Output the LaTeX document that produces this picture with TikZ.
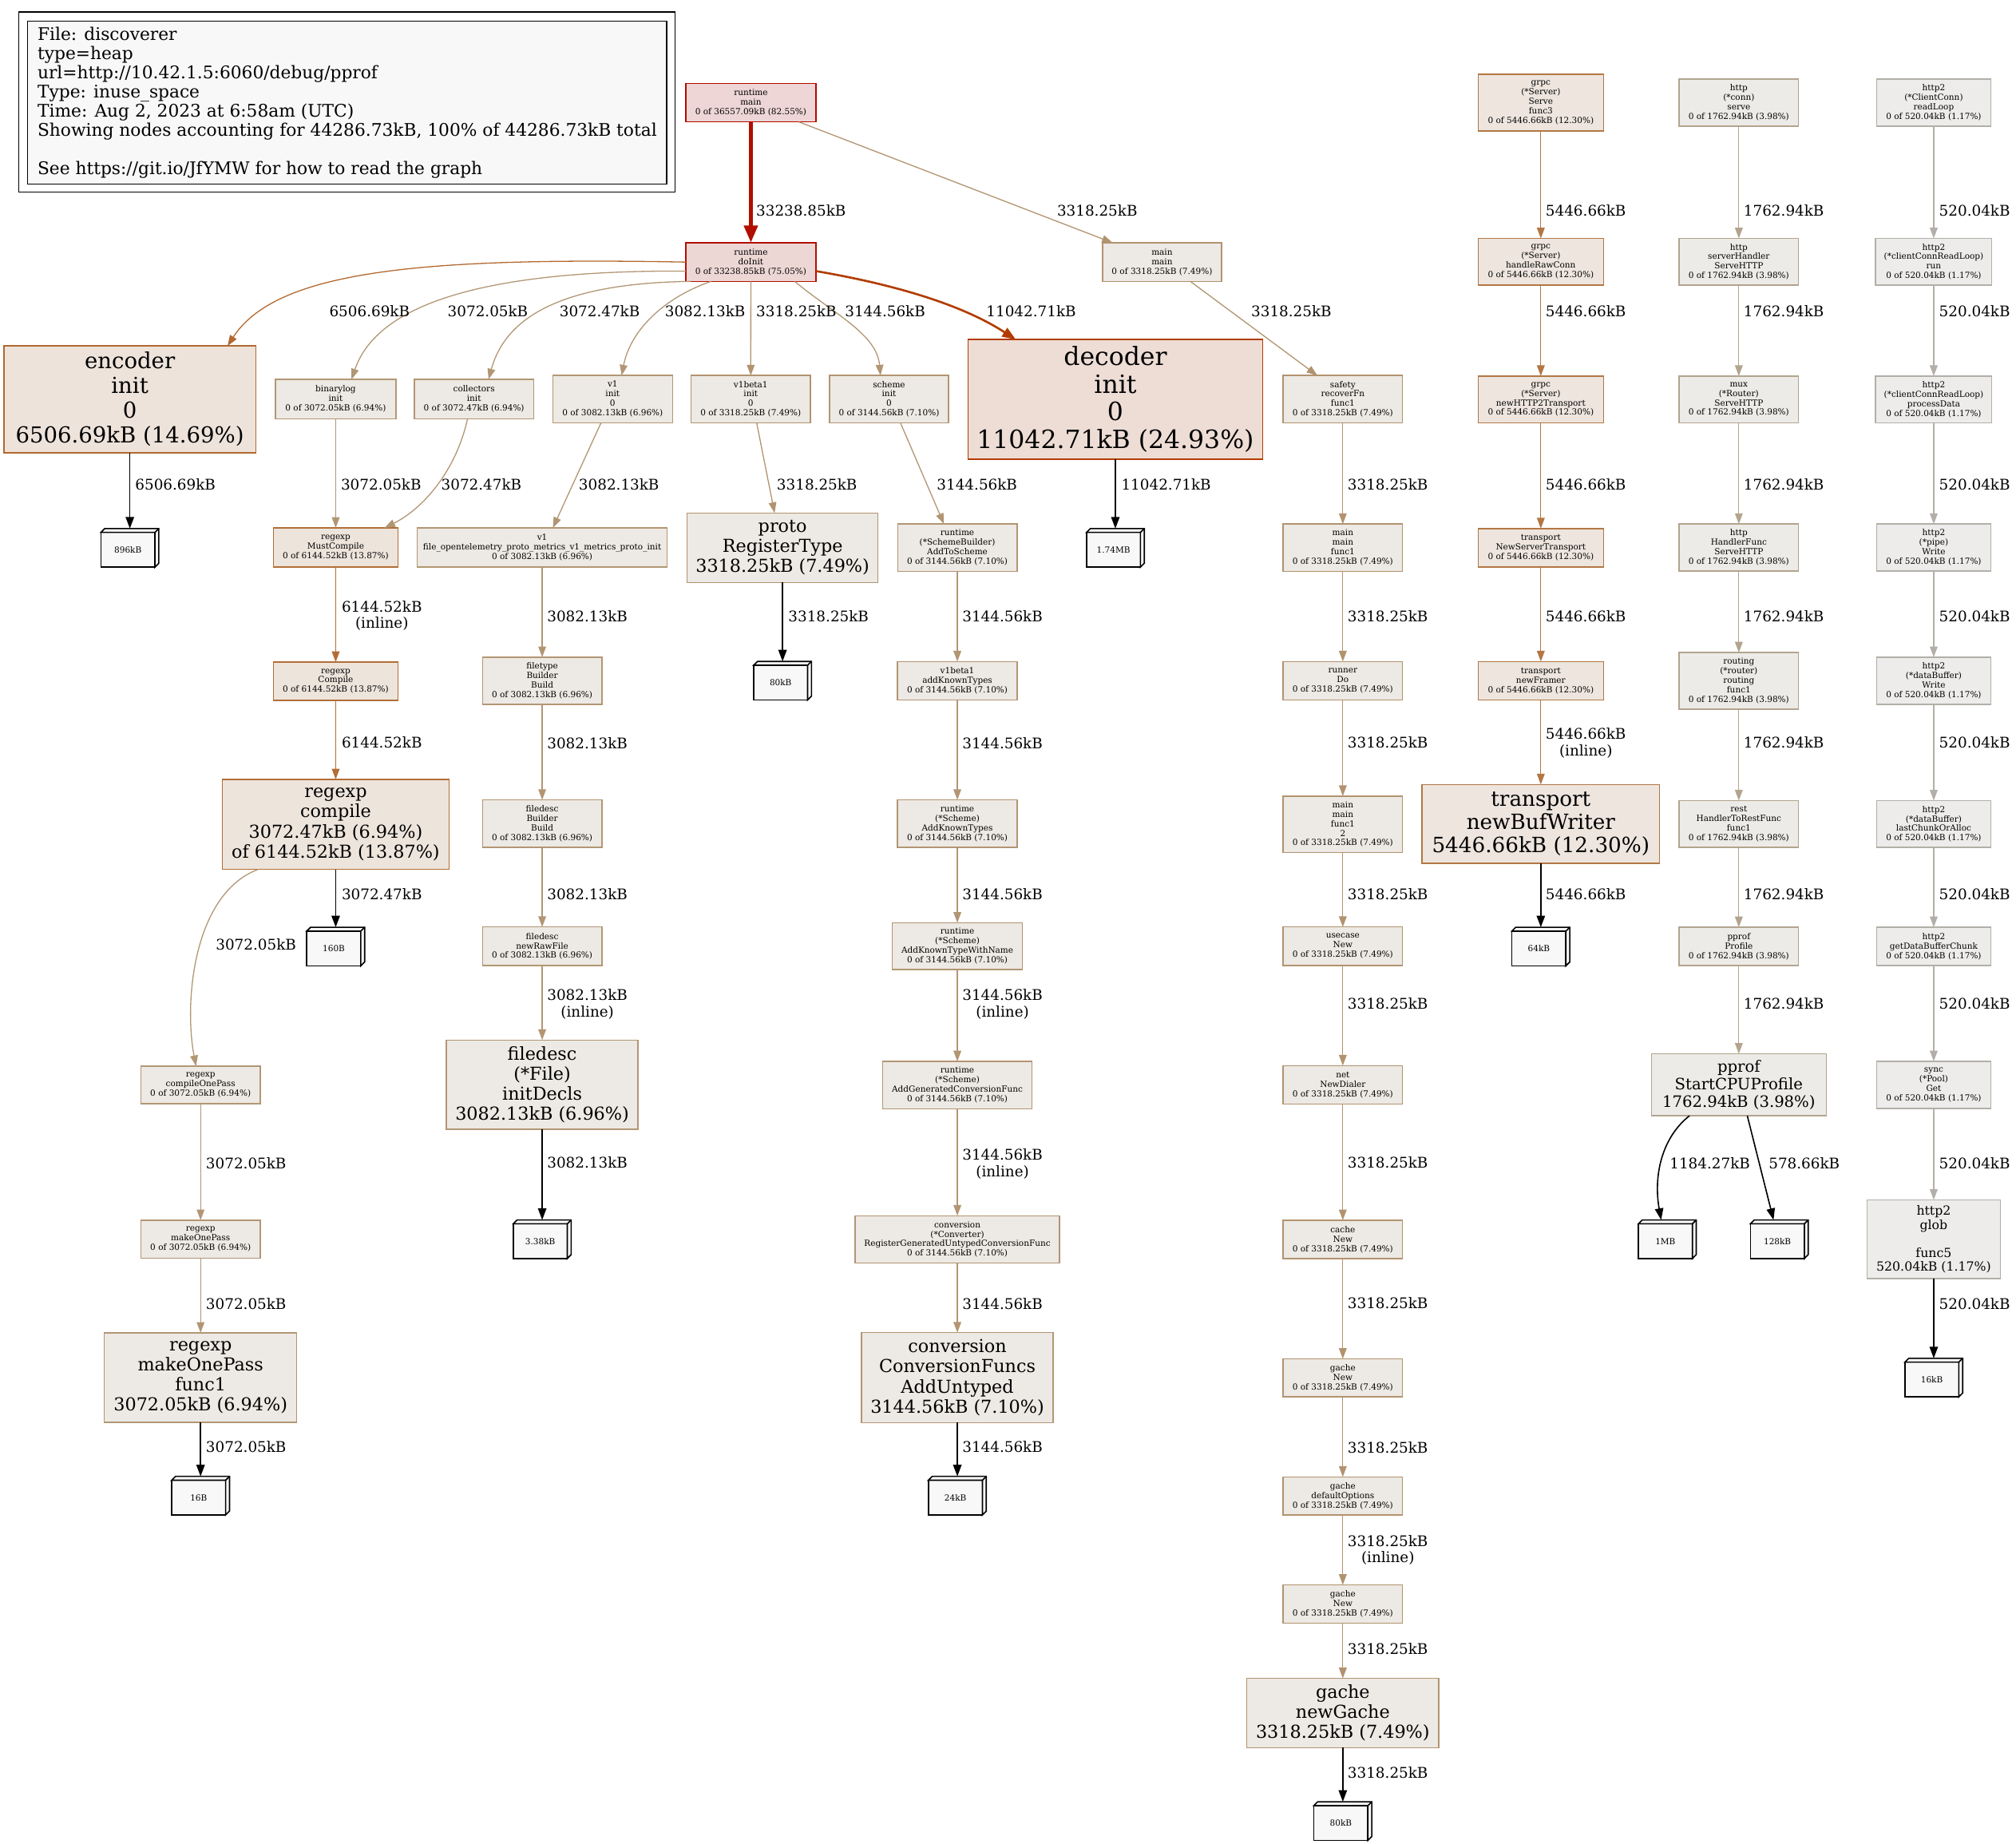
\documentclass[tikz,border=0pt]{standalone}
\usepackage{fontspec}
\setmainfont{DejaVu Serif}
\usetikzlibrary{arrows.meta}

\definecolor{f826}{HTML}{EDD6D5}\definecolor{d826}{HTML}{B20900}
\definecolor{f751}{HTML}{EDD7D5}\definecolor{d751}{HTML}{B20E00}
\definecolor{f249}{HTML}{EDDDD5}\definecolor{d249}{HTML}{B23C00}
\definecolor{f147}{HTML}{EDE3DB}\definecolor{d147}{HTML}{B2682F}
\definecolor{f139}{HTML}{EDE4DC}\definecolor{d139}{HTML}{B26E36}
\definecolor{f123}{HTML}{EDE5DE}\definecolor{d123}{HTML}{B27744}
\definecolor{f075}{HTML}{EDE9E4}\definecolor{d075}{HTML}{B2936F}
\definecolor{d071}{HTML}{B29573}
\definecolor{d069}{HTML}{B29674}
\definecolor{f040}{HTML}{EDEBE8}\definecolor{d040}{HTML}{B2A48E}
\definecolor{f012}{HTML}{EDECEB}\definecolor{d012}{HTML}{B2AFA8}
\definecolor{cubefill}{HTML}{F8F8F8}
\definecolor{legendfill}{HTML}{F8F8F8}

\newcommand\ppsmall{\fontsize{6.52pt}{7.4pt}\selectfont}
\newcommand\pplab{\fontsize{11.4pt}{12.8pt}\selectfont}
\newcommand\pplegend{\fontsize{13.5pt}{14.9pt}\selectfont}
\newcommand\ppdec{\fontsize{19.56pt}{21.5pt}\selectfont}
\newcommand\ppenc{\fontsize{17.1pt}{19.3pt}\selectfont}
\newcommand\ppbuf{\fontsize{16.3pt}{18.2pt}\selectfont}
\newcommand\ppmid{\fontsize{13.86pt}{15.6pt}\selectfont}
\newcommand\ppcpu{\fontsize{12.2pt}{13.6pt}\selectfont}
\newcommand\ppglob{\fontsize{9.78pt}{10.9pt}\selectfont}

\tikzset{
  fn/.style={draw, rectangle, inner sep=0pt, outer sep=0pt, align=center, line width=0.9pt, font=\ppsmall},
  s826/.style={fill=f826, draw=d826},
  s751/.style={fill=f751, draw=d751},
  s249/.style={fill=f249, draw=d249},
  s147/.style={fill=f147, draw=d147},
  s139/.style={fill=f139, draw=d139},
  s123/.style={fill=f123, draw=d123},
  s075/.style={fill=f075, draw=d075},
  s071/.style={fill=f075, draw=d071},
  s069/.style={fill=f075, draw=d069},
  s040/.style={fill=f040, draw=d040},
  s012/.style={fill=f012, draw=d012},
  cubebox/.style={draw=black, fill=cubefill, line width=1pt, rectangle, inner sep=0pt, outer sep=0pt, minimum width=42pt, minimum height=27pt, font=\ppsmall},
  cubeface/.style={draw=black, fill=cubefill, line width=1pt, line join=miter},
  ed/.style={line width=0.8pt, -{Triangle[length=8.3pt,width=6pt]}},
  edtwo/.style={line width=1.63pt, -{Triangle[length=10.5pt,width=7.8pt]}},
  edfour/.style={line width=3.26pt, -{Triangle[length=13.5pt,width=10.3pt]}},
  et/.style={line width=1pt, draw=black, -{Triangle[length=9pt,width=6.5pt]}},
  el/.style={font=\pplab, inner sep=0pt, anchor=west, align=center},
}

% name, style, cx, cy, w, h, text
\newcommand\bx[7]{\node[fn,#2,minimum width=#5pt,minimum height=#6pt] (#1) at (#3,#4) {#7};}
% name, cx, cy, text  (box3d, 45 x 30 overall)
\newcommand\cube[4]{%
  \node[cubebox, xshift=-1.5pt, yshift=-1.5pt] (#1) at (#2,#3) {#4};%
  \draw[cubeface] (#1.north west) -- ++(3pt,3pt) -- ([shift={(3pt,3pt)}]#1.north east) -- ([shift={(3pt,3pt)}]#1.south east) -- (#1.south east) -- (#1.north east) -- cycle;%
  \draw[cubeface] (#1.north east) -- ++(3pt,3pt);%
}

\begin{document}
\begin{tikzpicture}[x=1pt,y=-1pt]
\useasboundingbox (0,0) rectangle (1568,1433.86);
\fill[white] (0,0) rectangle (1568,1433.86);

% ---------------- legend ----------------
\draw[line width=0.8pt] (14.5,9.3) rectangle (524.9,149.5);
\node[draw=black, fill=legendfill, line width=0.8pt, inner sep=0pt, align=left, font=\pplegend,
      minimum width=497pt, minimum height=126.6pt] (legend) at (270.1,79.9)
 {File: discoverer\\
  type=heap\\
  url=http://10.42.1.5:6060/debug/pprof\\
  Type: inuse\_space\\
  Time: Aug 2, 2023 at 6:58am (UTC)\\
  Showing nodes accounting for 44286.73kB, 100\% of 44286.73kB total\\[14.9pt]
  See https://git.io/JfYMW for how to read the graph};

% ---------------- nodes ----------------
\bx{rmain}{s826}{584}{79.8}{101.3}{30}{runtime\\main\\0 of 36557.09kB (82.55\%)}
\bx{doinit}{s751}{584}{203.8}{101.3}{30}{runtime\\doInit\\0 of 33238.85kB (75.05\%)}
\bx{mainmain}{s075}{903.8}{203.8}{92.4}{30}{main\\main\\0 of 3318.25kB (7.49\%)}

\bx{enc}{s147,font=\ppenc}{101}{310.5}{196}{83}{encoder\\init\\0\\6506.69kB (14.69\%)}
\bx{binarylog}{s069}{261.1}{310.3}{93.7}{30.6}{binarylog\\init\\0 of 3072.05kB (6.94\%)}
\bx{collectors}{s069}{368.65}{310.3}{92.7}{30.6}{collectors\\init\\0 of 3072.47kB (6.94\%)}
\bx{v1init}{s069}{476.5}{310.35}{93.1}{36.7}{v1\\init\\0\\0 of 3082.13kB (6.96\%)}
\bx{v1beta1}{s075}{583.9}{310.35}{92.7}{36.7}{v1beta1\\init\\0\\0 of 3318.25kB (7.49\%)}
\bx{schemeinit}{s071}{691.45}{310.35}{92.7}{36.7}{scheme\\init\\0\\0 of 3144.56kB (7.10\%)}
\bx{dec}{s249,font=\ppdec}{867.5}{310.5}{229}{93}{decoder\\init\\0\\11042.71kB (24.93\%)}
\bx{safety}{s075}{1044.4}{310.35}{92.8}{36.7}{safety\\recoverFn\\func1\\0 of 3318.25kB (7.49\%)}

\bx{mustcompile}{s139}{261.1}{425.7}{96.8}{30.4}{regexp\\MustCompile\\0 of 6144.52kB (13.87\%)}
\bx{v1file}{s069}{421.7}{425.7}{194.6}{30.4}{v1\\file\_opentelemetry\_proto\_metrics\_v1\_metrics\_proto\_init\\0 of 3082.13kB (6.96\%)}
\bx{proto}{s075,font=\ppmid}{608.65}{425.9}{148.3}{54}{proto\\RegisterType\\3318.25kB (7.49\%)}
\bx{addtoscheme}{s071}{744.6}{425.85}{92.8}{36.7}{runtime\\(*SchemeBuilder)\\AddToScheme\\0 of 3144.56kB (7.10\%)}
\bx{mainfunc}{s075}{1044.4}{425.85}{92.8}{36.7}{main\\main\\func1\\0 of 3318.25kB (7.49\%)}

\bx{compile}{s139}{261.1}{529.7}{96.8}{29.8}{regexp\\Compile\\0 of 6144.52kB (13.87\%)}
\bx{filetype}{s069}{421.7}{529.4}{92.8}{36.8}{filetype\\Builder\\Build\\0 of 3082.13kB (6.96\%)}
\bx{addknown}{s071}{744.6}{529.3}{93}{29.8}{v1beta1\\addKnownTypes\\0 of 3144.56kB (7.10\%)}
\bx{runner}{s075}{1044.4}{529.4}{92.8}{30}{runner\\Do\\0 of 3318.25kB (7.49\%)}

\bx{rcompile}{s139,font=\ppmid}{261.1}{641}{176.2}{70}{regexp\\compile\\3072.47kB (6.94\%)\\of 6144.52kB (13.87\%)}
\bx{fdbuilder}{s069}{421.7}{640.5}{92.8}{37}{filedesc\\Builder\\Build\\0 of 3082.13kB (6.96\%)}
\bx{sakt}{s071}{744.6}{640.5}{93}{37}{runtime\\(*Scheme)\\AddKnownTypes\\0 of 3144.56kB (7.10\%)}
\bx{mainfunctwo}{s075}{1044.4}{640.9}{92.8}{43.8}{main\\main\\func1\\2\\0 of 3318.25kB (7.49\%)}

\bx{newrawfile}{s069}{421.7}{735.8}{92.8}{30}{filedesc\\newRawFile\\0 of 3082.13kB (6.96\%)}
\bx{withname}{s071}{744.6}{735.75}{101.4}{36.5}{runtime\\(*Scheme)\\AddKnownTypeWithName\\0 of 3144.56kB (7.10\%)}
\bx{usecase}{s075}{1044.4}{735.8}{92.8}{30}{usecase\\New\\0 of 3318.25kB (7.49\%)}

\bx{compileonepass}{s069}{156}{843.65}{93.1}{29.3}{regexp\\compileOnePass\\0 of 3072.05kB (6.94\%)}
\bx{initdecls}{s069,font=\ppmid}{421.7}{843.35}{149}{69.3}{filedesc\\(*File)\\initDecls\\3082.13kB (6.96\%)}
\bx{addgenconv}{s071}{744.6}{843.7}{116}{36.8}{runtime\\(*Scheme)\\AddGeneratedConversionFunc\\0 of 3144.56kB (7.10\%)}
\bx{netdialer}{s075}{1044.4}{843.55}{92.8}{29.9}{net\\NewDialer\\0 of 3318.25kB (7.49\%)}

\bx{makeonepass}{s069}{156}{963.5}{93.1}{29.4}{regexp\\makeOnePass\\0 of 3072.05kB (6.94\%)}
\bx{registergen}{s071}{744.6}{963.75}{158.8}{36.9}{conversion\\(*Converter)\\RegisterGeneratedUntypedConversionFunc\\0 of 3144.56kB (7.10\%)}
\bx{cachenew}{s075}{1044.4}{963.8}{92.8}{30}{cache\\New\\0 of 3318.25kB (7.49\%)}

\bx{mopfunc}{s069,font=\ppmid}{156}{1071.2}{149.6}{69.6}{regexp\\makeOnePass\\func1\\3072.05kB (6.94\%)}
\bx{adduntyped}{s071,font=\ppmid}{744.6}{1071.2}{149.2}{70}{conversion\\ConversionFuncs\\AddUntyped\\3144.56kB (7.10\%)}
\bx{gachenew}{s075}{1044.4}{1071.3}{92.8}{29.4}{gache\\New\\0 of 3318.25kB (7.49\%)}
\bx{defaultoptions}{s075}{1044.4}{1163.2}{92.8}{29.6}{gache\\defaultOptions\\0 of 3318.25kB (7.49\%)}
\bx{gachenewtwo}{s075}{1044.4}{1247.2}{92.8}{29.6}{gache\\New\\0 of 3318.25kB (7.49\%)}
\bx{newgache}{s075,font=\ppmid}{1044.4}{1332}{149.3}{53.9}{gache\\newGache\\3318.25kB (7.49\%)}

% grpc column
\bx{grpcserve}{s123}{1198.4}{79.8}{97.6}{44}{grpc\\(*Server)\\Serve\\func3\\0 of 5446.66kB (12.30\%)}
\bx{handleraw}{s123}{1198.4}{203.55}{97.6}{36.3}{grpc\\(*Server)\\handleRawConn\\0 of 5446.66kB (12.30\%)}
\bx{newhttptwo}{s123}{1198.4}{310.55}{97.6}{36.3}{grpc\\(*Server)\\newHTTP2Transport\\0 of 5446.66kB (12.30\%)}
\bx{nst}{s123}{1198.4}{426}{97.6}{30}{transport\\NewServerTransport\\0 of 5446.66kB (12.30\%)}
\bx{newframer}{s123}{1198.4}{529.4}{97.6}{30}{transport\\newFramer\\0 of 5446.66kB (12.30\%)}
\bx{newbufwriter}{s123,font=\ppbuf}{1198.4}{640.65}{184.6}{61.3}{transport\\newBufWriter\\5446.66kB (12.30\%)}

% http column
\bx{httpconn}{s040}{1352.4}{79.7}{93}{36.6}{http\\(*conn)\\serve\\0 of 1762.94kB (3.98\%)}
\bx{serverhandler}{s040}{1352.4}{203.55}{93}{36.3}{http\\serverHandler\\ServeHTTP\\0 of 1762.94kB (3.98\%)}
\bx{mux}{s040}{1352.4}{310.55}{93}{36.3}{mux\\(*Router)\\ServeHTTP\\0 of 1762.94kB (3.98\%)}
\bx{handlerfunc}{s040}{1352.4}{425.75}{93}{36.5}{http\\HandlerFunc\\ServeHTTP\\0 of 1762.94kB (3.98\%)}
\bx{routing}{s040}{1352.4}{529.35}{93}{43.9}{routing\\(*router)\\routing\\func1\\0 of 1762.94kB (3.98\%)}
\bx{rest}{s040}{1352.4}{640.75}{93}{36.5}{rest\\HandlerToRestFunc\\func1\\0 of 1762.94kB (3.98\%)}
\bx{pprofprofile}{s040}{1352.4}{735.9}{93}{29.8}{pprof\\Profile\\0 of 1762.94kB (3.98\%)}
\bx{startcpu}{s040,font=\ppcpu}{1352.4}{843.5}{136}{48.2}{pprof\\StartCPUProfile\\1762.94kB (3.98\%)}

% http2 column
\bx{readloop}{s012}{1504}{79.7}{89.1}{36.6}{http2\\(*ClientConn)\\readLoop\\0 of 520.04kB (1.17\%)}
\bx{hrun}{s012}{1504}{203.55}{90.4}{36.3}{http2\\(*clientConnReadLoop)\\run\\0 of 520.04kB (1.17\%)}
\bx{hprocess}{s012}{1504}{310.55}{90.4}{36.3}{http2\\(*clientConnReadLoop)\\processData\\0 of 520.04kB (1.17\%)}
\bx{pipewrite}{s012}{1504}{425.75}{89.1}{36.5}{http2\\(*pipe)\\Write\\0 of 520.04kB (1.17\%)}
\bx{dbwrite}{s012}{1504}{529.35}{89.1}{36.7}{http2\\(*dataBuffer)\\Write\\0 of 520.04kB (1.17\%)}
\bx{lastchunk}{s012}{1504}{640.75}{89.1}{36.5}{http2\\(*dataBuffer)\\lastChunkOrAlloc\\0 of 520.04kB (1.17\%)}
\bx{getchunk}{s012}{1504}{735.9}{89.1}{29.8}{http2\\getDataBufferChunk\\0 of 520.04kB (1.17\%)}
\bx{syncget}{s012}{1504}{843.65}{88.7}{36.7}{sync\\(*Pool)\\Get\\0 of 520.04kB (1.17\%)}
\bx{glob}{s012,font=\ppglob}{1504}{963.65}{103.6}{61.3}{http2\\glob\\[10.9pt]func5\\520.04kB (1.17\%)}

% tag cubes
\cube{cA}{101}{426}{896kB}
\cube{cB}{867.5}{426}{1.74MB}
\cube{cC}{608.65}{529.3}{80kB}
\cube{cD}{261.1}{736}{160B}
\cube{cE}{1198.4}{736}{64kB}
\cube{cF}{421.7}{963.6}{3.38kB}
\cube{cG}{1296.8}{963.6}{1MB}
\cube{cH}{1383.9}{963.6}{128kB}
\cube{cI}{1504}{1071.2}{16kB}
\cube{cJ}{156}{1163}{16B}
\cube{cK}{744.6}{1163}{24kB}
\cube{cL}{1044.4}{1416}{80kB}

% ---------------- edges ----------------
\draw[edfour, draw=d751] (rmain) -- (doinit);
\draw[ed, draw=d075] ([xshift=37.4pt]rmain.south) -- ([xshift=-38.4pt]mainmain.north);

\draw[ed, draw=d147] (doinit.west) .. controls (330,200) and (215,210) .. ([xshift=76pt]enc.north);
\draw[ed, draw=d069] ([yshift=-7pt]doinit.west) .. controls (390,210) and (295,232) .. ([xshift=12.3pt]binarylog.north);
\draw[ed, draw=d069] ([xshift=4pt]doinit.south west) .. controls (450,220) and (395,240) .. ([xshift=11.35pt]collectors.north);
\draw[ed, draw=d069] ([xshift=-31pt]doinit.south) .. controls (515,232) and (490,258) .. ([xshift=7pt]v1init.north);
\draw[ed, draw=d075] (doinit) -- (v1beta1);
\draw[ed, draw=d071] ([xshift=34pt]doinit.south) .. controls (650,245) and (682,260) .. ([xshift=-6.65pt]schemeinit.north);
\draw[edtwo, draw=d249] ([yshift=-7pt]doinit.east) .. controls (700,222) and (750,238) .. ([xshift=-77.5pt]dec.north);
\draw[ed, draw=d075] ([xshift=22pt]mainmain.south) -- ([xshift=-19.8pt]safety.north);

\draw[et] (enc) -- ([shift={(1.5pt,3pt)}]cA.north);
\draw[et] (dec) -- ([shift={(1.5pt,3pt)}]cB.north);
\draw[ed, draw=d069] (binarylog) -- (mustcompile);
\draw[ed, draw=d069] ([xshift=-5pt]collectors.south) .. controls (355,365) and (330,395) .. ([xshift=38pt]mustcompile.north);
\draw[ed, draw=d069] ([xshift=-9pt]v1init.south) -- ([xshift=8.3pt]v1file.north);
\draw[ed, draw=d075] ([xshift=4.6pt]v1beta1.south) -- ([xshift=-6.2pt]proto.north);
\draw[ed, draw=d071] ([xshift=8.85pt]schemeinit.south) -- ([xshift=-10.4pt]addtoscheme.north);
\draw[ed, draw=d075] (safety) -- (mainfunc);

\draw[ed, draw=d139] (mustcompile) -- (compile);
\draw[ed, draw=d069] (v1file) -- (filetype);
\draw[et] (proto) -- ([shift={(1.5pt,3pt)}]cC.north);
\draw[ed, draw=d071] (addtoscheme) -- (addknown);
\draw[ed, draw=d075] (mainfunc) -- (runner);

\draw[ed, draw=d139] (compile) -- (rcompile);
\draw[ed, draw=d069] (filetype) -- (fdbuilder);
\draw[ed, draw=d071] (addknown) -- (sakt);
\draw[ed, draw=d075] (runner) -- (mainfunctwo);

\draw[et] (rcompile) -- ([shift={(1.5pt,3pt)}]cD.north);
\draw[ed, draw=d069] ([xshift=-60.3pt]rcompile.south) .. controls (150,695) and (143,780) .. ([xshift=-3.5pt]compileonepass.north);
\draw[ed, draw=d069] (fdbuilder) -- (newrawfile);
\draw[ed, draw=d071] (sakt) -- (withname);
\draw[ed, draw=d075] (mainfunctwo) -- (usecase);

\draw[ed, draw=d069] (newrawfile) -- (initdecls);
\draw[ed, draw=d071] (withname) -- (addgenconv);
\draw[ed, draw=d075] (usecase) -- (netdialer);

\draw[ed, draw=d069] (compileonepass) -- (makeonepass);
\draw[et] (initdecls) -- ([shift={(1.5pt,3pt)}]cF.north);
\draw[ed, draw=d071] (addgenconv) -- (registergen);
\draw[ed, draw=d075] (netdialer) -- (cachenew);

\draw[ed, draw=d069] (makeonepass) -- (mopfunc);
\draw[ed, draw=d071] (registergen) -- (adduntyped);
\draw[ed, draw=d075] (cachenew) -- (gachenew);

\draw[et] (mopfunc) -- ([shift={(1.5pt,3pt)}]cJ.north);
\draw[et] (adduntyped) -- ([shift={(1.5pt,3pt)}]cK.north);
\draw[ed, draw=d075] (gachenew) -- (defaultoptions);
\draw[ed, draw=d075] (defaultoptions) -- (gachenewtwo);
\draw[ed, draw=d075] (gachenewtwo) -- (newgache);
\draw[et] (newgache) -- ([shift={(1.5pt,3pt)}]cL.north);

\draw[ed, draw=d123] (grpcserve) -- (handleraw);
\draw[ed, draw=d123] (handleraw) -- (newhttptwo);
\draw[ed, draw=d123] (newhttptwo) -- (nst);
\draw[ed, draw=d123] (nst) -- (newframer);
\draw[ed, draw=d123] (newframer) -- (newbufwriter);
\draw[et] (newbufwriter) -- ([shift={(1.5pt,3pt)}]cE.north);

\draw[ed, draw=d040] (httpconn) -- (serverhandler);
\draw[ed, draw=d040] (serverhandler) -- (mux);
\draw[ed, draw=d040] (mux) -- (handlerfunc);
\draw[ed, draw=d040] (handlerfunc) -- (routing);
\draw[ed, draw=d040] (routing) -- (rest);
\draw[ed, draw=d040] (rest) -- (pprofprofile);
\draw[ed, draw=d040] (pprofprofile) -- (startcpu);
\draw[et] ([xshift=-38.4pt]startcpu.south) .. controls (1292,885) and (1286,915) .. ([shift={(-3.3pt,3pt)}]cG.north);
\draw[et] ([xshift=6.6pt]startcpu.south) -- ([shift={(-3pt,3pt)}]cH.north);

\draw[ed, draw=d012] (readloop) -- (hrun);
\draw[ed, draw=d012] (hrun) -- (hprocess);
\draw[ed, draw=d012] (hprocess) -- (pipewrite);
\draw[ed, draw=d012] (pipewrite) -- (dbwrite);
\draw[ed, draw=d012] (dbwrite) -- (lastchunk);
\draw[ed, draw=d012] (lastchunk) -- (getchunk);
\draw[ed, draw=d012] (getchunk) -- (syncget);
\draw[ed, draw=d012] (syncget) -- (glob);
\draw[et] (glob) -- ([shift={(1.5pt,3pt)}]cI.north);

% ---------------- edge labels ----------------
\node[el] (la1) at (588,163.5) {33238.85kB};
\node[el] (la2) at (822,163.5) {3318.25kB};
\node[el] (la3) at (1202,163.5) {5446.66kB};
\node[el] (la4) at (1356,163.5) {1762.94kB};
\node[el] (la5) at (1508,163.5) {520.04kB};

\node[el] (lb1) at (256,242) {6506.69kB};
\node[el] (lb2) at (348,242) {3072.05kB};
\node[el] (lb3) at (435,242) {3072.47kB};
\node[el] (lb4) at (517,242) {3082.13kB};
\node[el] (lb5) at (588,242) {3318.25kB};
\node[el] (lb6) at (657,242) {3144.56kB};
\node[el] (lb7) at (767,242) {11042.71kB};
\node[el] (lb8) at (973,242) {3318.25kB};
\node[el] (lb9) at (1202,242) {5446.66kB};
\node[el] (lb10) at (1356,242) {1762.94kB};
\node[el] (lb11) at (1508,242) {520.04kB};

\node[el] (lc1) at (105,377) {6506.69kB};
\node[el] (lc2) at (265,377) {3072.05kB};
\node[el] (lc3) at (343,377) {3072.47kB};
\node[el] (lc4) at (450,377) {3082.13kB};
\node[el] (lc5) at (604,377) {3318.25kB};
\node[el] (lc6) at (728.5,377) {3144.56kB};
\node[el] (lc7) at (872,377) {11042.71kB};
\node[el] (lc8) at (1048,377) {3318.25kB};
\node[el] (lc9) at (1202,377) {5446.66kB};
\node[el] (lc10) at (1356,377) {1762.94kB};
\node[el] (lc11) at (1508,377) {520.04kB};

\node[el] (ld1) at (265.6,478.8) {6144.52kB\\(inline)};
\node[el] (ld2) at (425.4,479) {3082.13kB};
\node[el] (ld3) at (613,479) {3318.25kB};
\node[el] (ld4) at (748.3,479) {3144.56kB};
\node[el] (ld5) at (1048,479) {3318.25kB};
\node[el] (ld6) at (1202,479) {5446.66kB};
\node[el] (ld7) at (1356,479) {1762.94kB};
\node[el] (ld8) at (1508,479) {520.04kB};

\node[el] (le1) at (265.6,577.5) {6144.52kB};
\node[el] (le2) at (425.4,577.7) {3082.13kB};
\node[el] (le3) at (748.3,577.7) {3144.56kB};
\node[el] (le4) at (1048,577.6) {3318.25kB};
\node[el] (le5) at (1202,577.8) {5446.66kB\\(inline)};
\node[el] (le6) at (1356,577.6) {1762.94kB};
\node[el] (le7) at (1508,577.6) {520.04kB};

\node[el] (lf1) at (265.6,695) {3072.47kB};
\node[el] (lf2) at (425.4,695.5) {3082.13kB};
\node[el] (lf3) at (748.3,695.5) {3144.56kB};
\node[el] (lf4) at (1048,695.5) {3318.25kB};
\node[el] (lf5) at (1202,695.5) {5446.66kB};
\node[el] (lf6) at (1356,695.5) {1762.94kB};
\node[el] (lf7) at (1508,695.5) {520.04kB};

\node[el] (lg1) at (167.7,734.6) {3072.05kB};
\node[el] (lg2) at (425.4,781) {3082.13kB\\(inline)};
\node[el] (lg3) at (748.3,781) {3144.56kB\\(inline)};
\node[el] (lg4) at (1048,780.5) {3318.25kB};
\node[el] (lg5) at (1356,780.5) {1762.94kB};
\node[el] (lg6) at (1508,780.5) {520.04kB};

\node[el] (lh1) at (160,904.6) {3072.05kB};
\node[el] (lh2) at (425.4,904) {3082.13kB};
\node[el] (lh3) at (748.3,905) {3144.56kB\\(inline)};
\node[el] (lh4) at (1048,904) {3318.25kB};
\node[el] (lh5) at (1298.5,904.8) {1184.27kB};
\node[el] (lh6) at (1375.5,904.8) {578.66kB};
\node[el] (lh7) at (1508,904.8) {520.04kB};

\node[el] (li1) at (160,1013.7) {3072.05kB};
\node[el] (li2) at (748.3,1014) {3144.56kB};
\node[el] (li3) at (1048,1013) {3318.25kB};
\node[el] (li4) at (1508,1014) {520.04kB};

\node[el] (lj1) at (160,1125) {3072.05kB};
\node[el] (lj2) at (748.3,1125) {3144.56kB};
\node[el] (lj3) at (1048,1125.5) {3318.25kB};

\node[el] (lk1) at (1048,1205.2) {3318.25kB\\(inline)};
\node[el] (lk2) at (1048,1282.3) {3318.25kB};
\node[el] (lk3) at (1048,1378.5) {3318.25kB};

\end{tikzpicture}
\end{document}
